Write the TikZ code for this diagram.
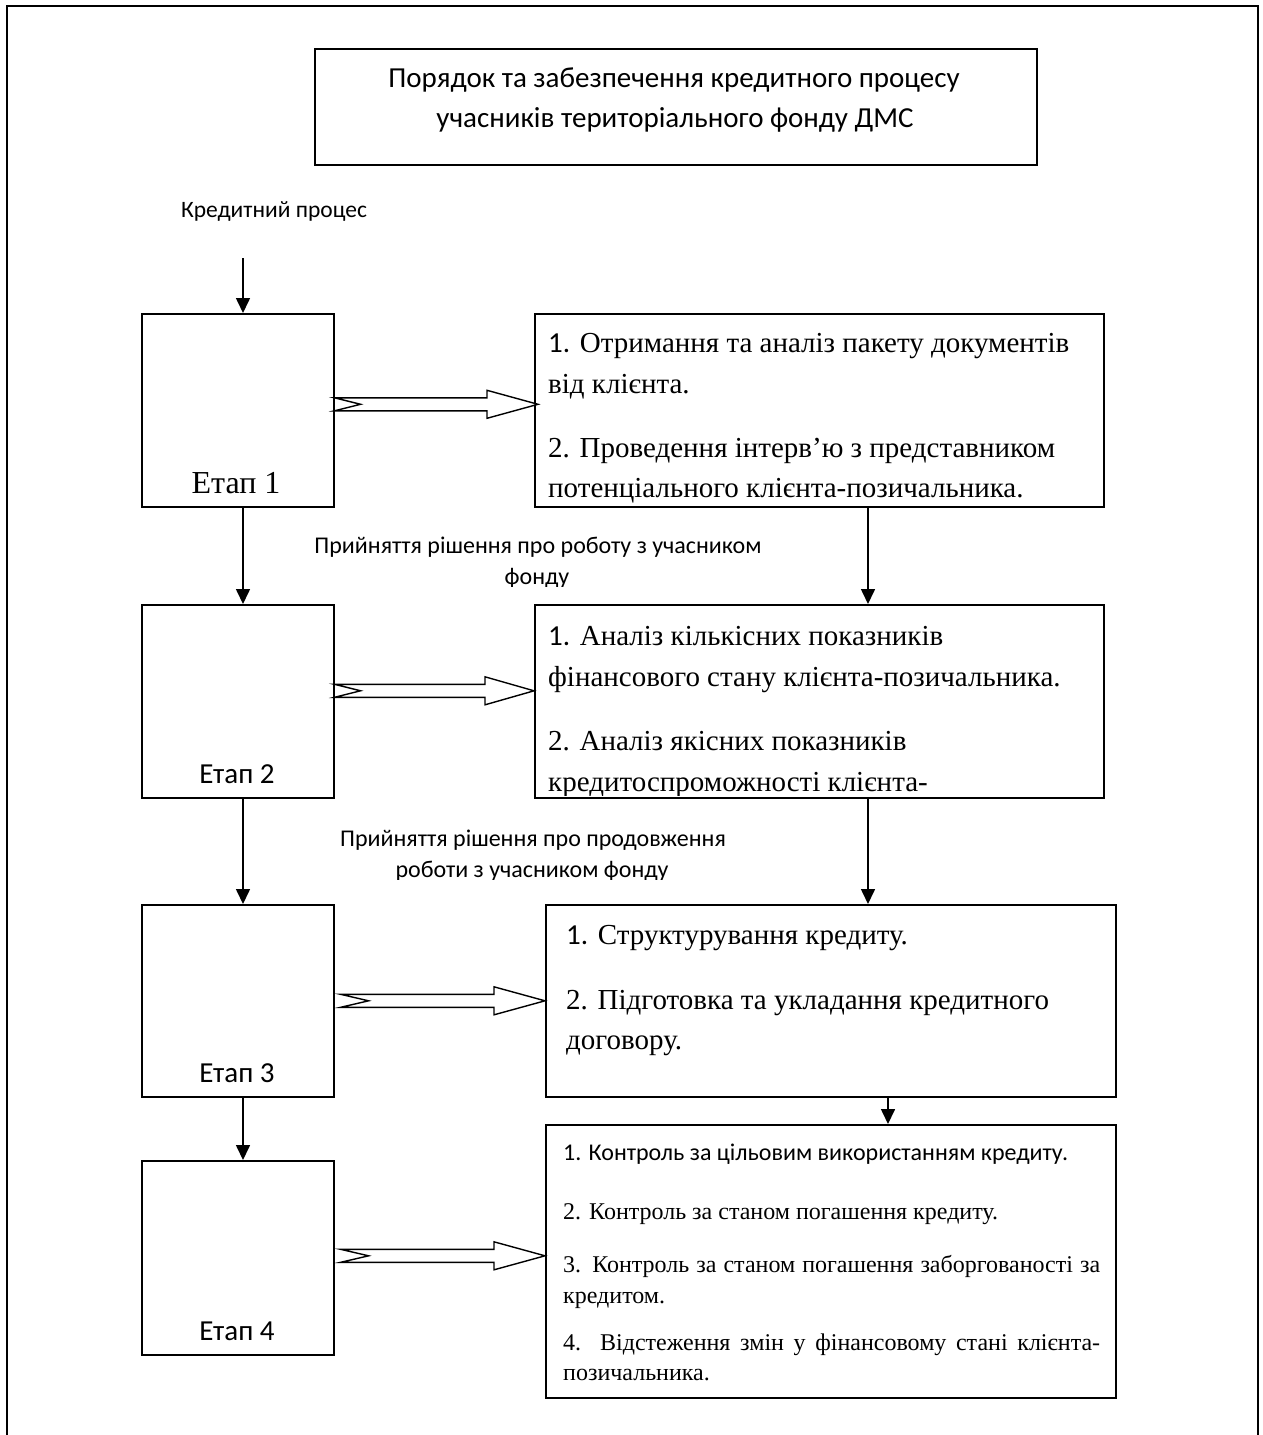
\documentclass[tikz,border=0pt]{standalone}
\usepackage{fontspec}
\setmainfont{Liberation Serif}
\newfontfamily\calib{Carlito}
\usetikzlibrary{arrows.meta,calc}
\newcommand{\notcharrow}[4]{%
  \draw[line width=1.4pt, fill=white, line join=miter]
    ($(#1)+(0,-6.5)$) -- ($(#2)+(-#4,-6.5)$) -- ($(#2)+(-#4,-14)$) -- (#2)
    -- ($(#2)+(-#4,14)$) -- ($(#2)+(-#4,6.5)$) -- ($(#1)+(0,6.5)$)
    -- ($(#1)+(#3,0)$) -- cycle;}
\tikzset{
  boxst/.style={draw, line width=1.6pt, anchor=north west, inner sep=0pt, minimum width=#1},
  arr/.style={line width=1.6pt, -{Triangle[width=14pt,length=15pt]}},
  tl/.style={anchor=base west, inner sep=0pt},
  tc/.style={anchor=base, inner sep=0pt},
  tnr/.style={font=\fontsize{29pt}{34pt}\selectfont},
  lab/.style={font=\calib\fontsize{24pt}{28pt}\selectfont},
  etap/.style={font=\calib\fontsize{29pt}{34pt}\selectfont},
  small/.style={font=\fontsize{24pt}{29pt}\selectfont},
}
\begin{document}
\begin{tikzpicture}[x=1pt,y=-1pt]
\useasboundingbox (0,0) rectangle (1263,1435);
% outer frame
\draw[line width=1.6pt] (7,1440) -- (7,6) -- (1258,6) -- (1258,1440);

% title
\node[boxst=722pt, minimum height=116pt] (title) at (314,48) {};
\node[tc, font=\calib\fontsize{29pt}{34pt}\selectfont] (tt1) at (674,87) {Порядок та забезпечення кредитного процесу};
\node[tc, font=\calib\fontsize{29pt}{34pt}\selectfont] (tt2) at (675,127) {учасників територіального фонду ДМС};

\node[tc, font=\calib\fontsize{23.5pt}{28pt}\selectfont] (kp) at (274,217) {Кредитний процес};
\coordinate (top0) at (243,258);

% stage boxes
\node[boxst=192pt, minimum height=193pt] (s1) at (141,313) {};
\node[boxst=192pt, minimum height=193pt] (s2) at (141,604) {};
\node[boxst=192pt, minimum height=192pt] (s3) at (141,904) {};
\node[boxst=192pt, minimum height=194pt] (s4) at (141,1160) {};
\node[tc, font=\fontsize{32pt}{38pt}\selectfont] (e1) at (236,493) {Етап 1};
\node[tc, etap] (e2) at (237,783) {Етап 2};
\node[tc, etap] (e3) at (237,1082) {Етап 3};
\node[tc, etap] (e4) at (237,1340) {Етап 4};

% right boxes
\node[boxst=569pt, minimum height=193pt] (r1) at (534,313) {};
\node[boxst=569pt, minimum height=193pt] (r2) at (534,604) {};
\node[boxst=570pt, minimum height=192pt] (r3) at (545,904) {};
\node[boxst=570pt, minimum height=273pt] (r4) at (545,1124) {};

% box 1 text
\node[tl, tnr] (a11) at (548,352) {{\calib 1.} Отримання та аналіз пакету документів};
\node[tl, tnr] (a12) at (548,393) {від клієнта.};
\node[tl, tnr] (a13) at (548,457) {2. Проведення інтерв’ю з представником};
\node[tl, tnr] (a14) at (548,497) {потенціального клієнта-позичальника.};

% box 2 text (clipped)
\begin{scope}
\clip (534,604) rectangle (1103,795);
\node[tl, tnr] (a21) at (548,645) {{\calib 1.} Аналіз кількісних показників};
\node[tl, tnr] (a22) at (548,686) {фінансового стану клієнта-позичальника.};
\node[tl, tnr] (a23) at (548,750) {2. Аналіз якісних показників};
\node[tl, tnr] (a24) at (548,791) {кредитоспроможності клієнта-};
\end{scope}

% box 3 text
\node[tl, tnr] (a31) at (566,944) {{\calib 1.} Структурування кредиту.};
\node[tl, tnr] (a32) at (566,1009) {2. Підготовка та укладання кредитного};
\node[tl, tnr] (a33) at (566,1049) {договору.};

% box 4 text
\node[tl, font=\calib\fontsize{24pt}{29pt}\selectfont] (a41) at (563,1160) {1. Контроль за цільовим використанням кредиту.};
\node[tl, small] (a42) at (563,1219) {2. Контроль за станом погашення кредиту.};
\node[tl, small] (a43) at (563,1272) {\makebox[537pt][s]{3. Контроль за станом погашення заборгованості за}};
\node[tl, small] (a44) at (563,1303) {кредитом.};
\node[tl, small] (a45) at (563,1350) {\makebox[537pt][s]{4. Відстеження змін у фінансовому стані клієнта-}};
\node[tl, small] (a46) at (563,1380) {позичальника.};

% decision labels (clipped)
\begin{scope}
\clip (0,500) rectangle (1263,586);
\node[tc, lab] (d11) at (538,553) {Прийняття рішення про роботу з учасником};
\node[tc, lab] (d12) at (537,584) {фонду};
\end{scope}
\begin{scope}
\clip (0,800) rectangle (1263,879);
\node[tc, lab] (d21) at (533,846) {Прийняття рішення про продовження};
\node[tc, lab] (d22) at (532,877) {роботи з учасником фонду};
\end{scope}

% vertical arrows
\draw[arr] (top0) -- (s1.north -| top0);
\draw[arr] (s1.south -| top0) -- (s2.north -| top0);
\draw[arr] (s2.south -| top0) -- (s3.north -| top0);
\draw[arr] (s3.south -| top0) -- (s4.north -| top0);
\coordinate (rc) at (868,0);
\coordinate (rd) at (888,0);
\draw[arr] (r1.south -| rc) -- (r2.north -| rc);
\draw[arr] (r2.south -| rc) -- (r3.north -| rc);
\draw[arr] (r3.south -| rd) -- (r4.north -| rd);

% notched block arrows
\coordinate (n1a) at ([yshift=6pt]s1.east);
\coordinate (n1b) at ([yshift=6pt,xshift=4pt]r1.west);
\coordinate (n2a) at ([yshift=10.5pt]s2.east);
\coordinate (n2b) at (n2a -| r2.west);
\coordinate (n3a) at ([xshift=6pt]s3.east);
\coordinate (n3b) at (n3a -| r3.west);
\coordinate (n4a) at ([xshift=6pt,yshift=2pt]s4.east);
\coordinate (n4b) at (n4a -| r4.west);
\notcharrow{n1a}{n1b}{26}{51}
\notcharrow{n2a}{n2b}{26}{49}
\notcharrow{n3a}{n3b}{28}{51}
\notcharrow{n4a}{n4b}{28}{51}
\end{tikzpicture}
\end{document}
